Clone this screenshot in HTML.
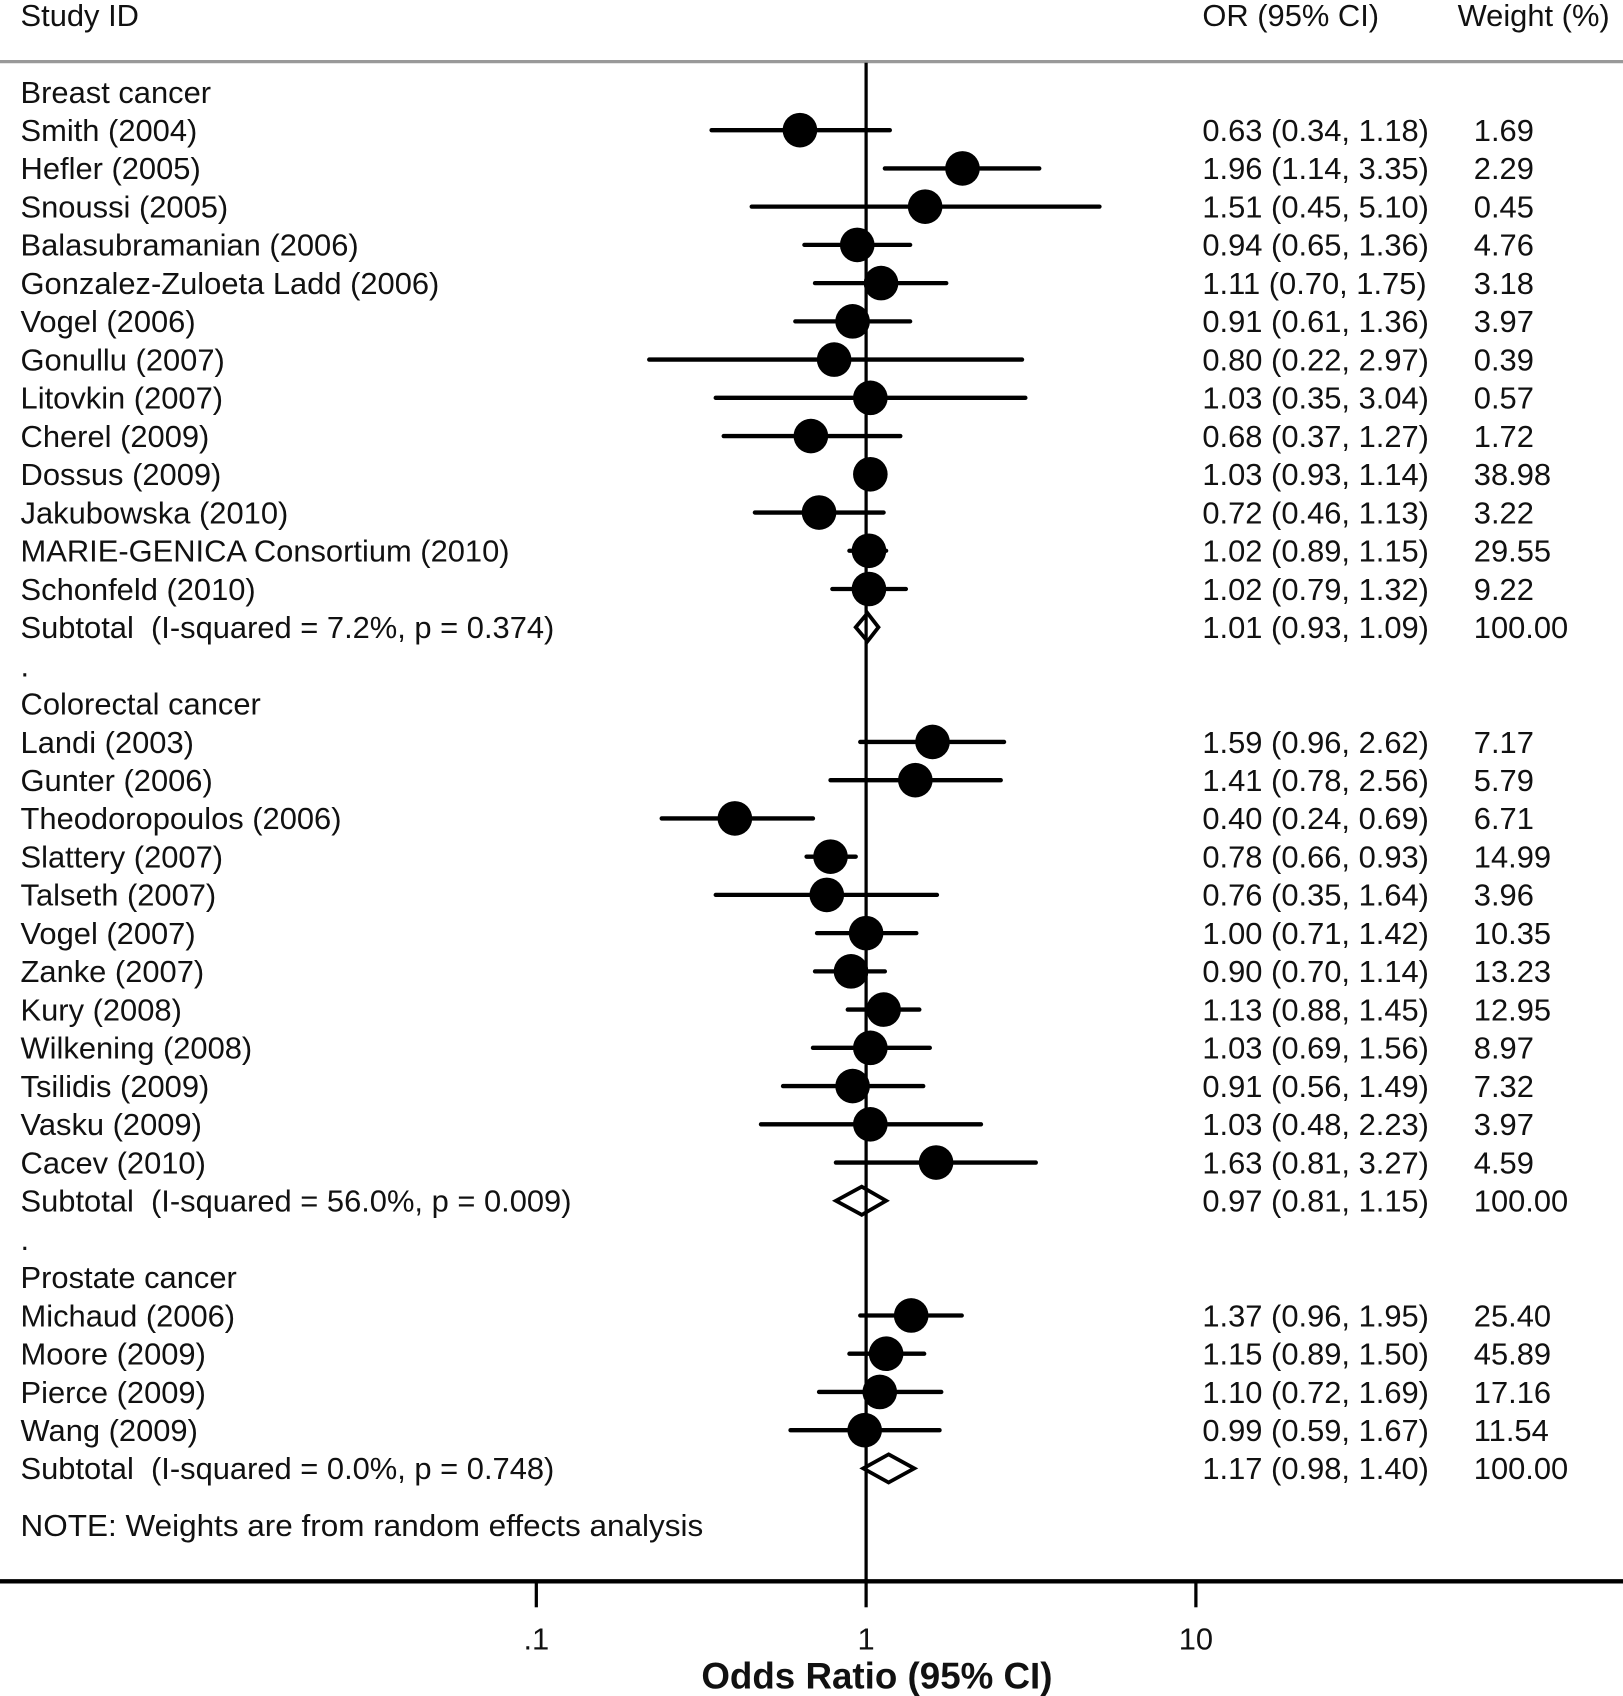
<!DOCTYPE html>
<html><head><meta charset="utf-8"><style>html,body{margin:0;padding:0;background:#fff}svg{display:block}</style></head>
<body>
<svg id="s" width="1623" height="1696" viewBox="0 0 1501 1568" preserveAspectRatio="none" xmlns="http://www.w3.org/2000/svg" font-family="Liberation Sans, Arial, sans-serif" fill="#111">
<rect width="1501" height="1568" fill="#fff"/>
<line x1="0" y1="57" x2="1501" y2="57" stroke="#999" stroke-width="3"/>
<line x1="801" y1="58" x2="801" y2="1462" stroke="#000" stroke-width="3"/>
<line x1="0" y1="1462" x2="1501" y2="1462" stroke="#000" stroke-width="4"/>
<line x1="496" y1="1462" x2="496" y2="1486" stroke="#000" stroke-width="3"/>
<line x1="801" y1="1462" x2="801" y2="1486" stroke="#000" stroke-width="3"/>
<line x1="1106" y1="1462" x2="1106" y2="1486" stroke="#000" stroke-width="3"/>
<g id="g"></g>
</svg>
<script>
var g=document.getElementById('g'),out='';
function T(x,y,s,anchor,extra,sc,fs){out+='<text xml:space="preserve" transform="translate('+x+','+y+') scale('+(sc||1.02)+',1)" font-size="'+(fs||28)+'" '+(anchor?'text-anchor="'+anchor+'" ':'')+(extra||'')+'>'+s+'</text>';}
function X(v){return 801+305*Math.log10(v);}
T(19,24,'Study ID');T(1112,24,'OR (95% CI)');T(1348,24,'Weight (%)');
var rows=[
['h','Breast cancer',85],
['Smith (2004)',0.63,0.34,1.18,'1.69'],
['Hefler (2005)',1.96,1.14,3.35,'2.29'],
['Snoussi (2005)',1.51,0.45,5.10,'0.45'],
['Balasubramanian (2006)',0.94,0.65,1.36,'4.76'],
['Gonzalez-Zuloeta Ladd (2006)',1.11,0.70,1.75,'3.18'],
['Vogel (2006)',0.91,0.61,1.36,'3.97'],
['Gonullu (2007)',0.80,0.22,2.97,'0.39'],
['Litovkin (2007)',1.03,0.35,3.04,'0.57'],
['Cherel (2009)',0.68,0.37,1.27,'1.72'],
['Dossus (2009)',1.03,0.93,1.14,'38.98'],
['Jakubowska (2010)',0.72,0.46,1.13,'3.22'],
['MARIE-GENICA Consortium (2010)',1.02,0.89,1.15,'29.55'],
['Schonfeld (2010)',1.02,0.79,1.32,'9.22'],
['s','Subtotal  (I-squared = 7.2%, p = 0.374)',1.01,0.93,1.09],
['d'],
['h','Colorectal cancer'],
['Landi (2003)',1.59,0.96,2.62,'7.17'],
['Gunter (2006)',1.41,0.78,2.56,'5.79'],
['Theodoropoulos (2006)',0.40,0.24,0.69,'6.71'],
['Slattery (2007)',0.78,0.66,0.93,'14.99'],
['Talseth (2007)',0.76,0.35,1.64,'3.96'],
['Vogel (2007)',1.00,0.71,1.42,'10.35'],
['Zanke (2007)',0.90,0.70,1.14,'13.23'],
['Kury (2008)',1.13,0.88,1.45,'12.95'],
['Wilkening (2008)',1.03,0.69,1.56,'8.97'],
['Tsilidis (2009)',0.91,0.56,1.49,'7.32'],
['Vasku (2009)',1.03,0.48,2.23,'3.97'],
['Cacev (2010)',1.63,0.81,3.27,'4.59'],
['s','Subtotal  (I-squared = 56.0%, p = 0.009)',0.97,0.81,1.15],
['d'],
['h','Prostate cancer'],
['Michaud (2006)',1.37,0.96,1.95,'25.40'],
['Moore (2009)',1.15,0.89,1.50,'45.89'],
['Pierce (2009)',1.10,0.72,1.69,'17.16'],
['Wang (2009)',0.99,0.59,1.67,'11.54'],
['s','Subtotal  (I-squared = 0.0%, p = 0.748)',1.17,0.98,1.40]
];
function f(v){return v.toFixed(2);}
var y=85;
rows.forEach(function(r){
  var b=y+10;
  if(r[0]=='h'){T(19,b,r[1]);}
  else if(r[0]=='d'){T(19,b,'.');}
  else if(r[0]=='s'){
    T(19,b,r[1]);
    var a=X(r[3]),c=X(r[2]),e=X(r[4]);
    out+='<polygon points="'+a+','+y+' '+c+','+(y-13)+' '+e+','+y+' '+c+','+(y+13)+'" fill="none" stroke="#000" stroke-width="3.5"/>';
    T(1112,b,f(r[2])+' ('+f(r[3])+', '+f(r[4])+')');T(1363,b,'100.00');
  } else {
    T(19,b,r[0]);
    out+='<line x1="'+X(r[2])+'" y1="'+y+'" x2="'+X(r[3])+'" y2="'+y+'" stroke="#000" stroke-width="4" stroke-linecap="round"/>';
    out+='<circle cx="'+X(r[1])+'" cy="'+y+'" r="16" fill="#000"/>';
    T(1112,b,f(r[1])+' ('+f(r[2])+', '+f(r[3])+')');T(1363,b,r[4]);
  }
  y+=35.35;
});
T(19,1420,'NOTE: Weights are from random effects analysis','','',1.04);
T(496,1525,'.1','middle');T(801,1525,'1','middle');T(1106,1525,'10','middle');
T(811,1561,'Odds Ratio (95% CI)','middle','font-weight="bold"',1.0,34);
g.innerHTML=out;
</script>
</body></html>
